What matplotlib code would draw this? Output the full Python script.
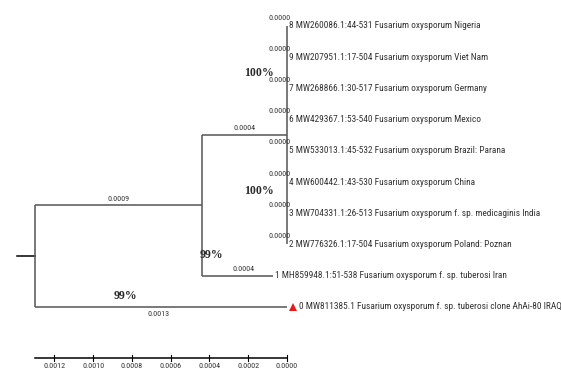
import matplotlib

matplotlib.use("Agg")
import matplotlib.pyplot as plt
from matplotlib import font_manager as fm

# tips, top to bottom
TAXA = [
    "8 MW260086.1:44-531 Fusarium oxysporum Nigeria",
    "9 MW207951.1:17-504 Fusarium oxysporum Viet Nam",
    "7 MW268866.1:30-517 Fusarium oxysporum Germany",
    "6 MW429367.1:53-540 Fusarium oxysporum Mexico",
    "5 MW533013.1:45-532 Fusarium oxysporum Brazil: Parana",
    "4 MW600442.1:43-530 Fusarium oxysporum China",
    "3 MW704331.1:26-513 Fusarium oxysporum f. sp. medicaginis India",
    "2 MW776326.1:17-504 Fusarium oxysporum Poland: Poznan",
    "1 MH859948.1:51-538 Fusarium oxysporum f. sp. tuberosi Iran",
    "0 MW811385.1 Fusarium oxysporum f. sp. tuberosi clone AhAi-80 IRAQ",
]
CLADE_TIPS = 8          # first 8 rows sit on the zero-length polytomy
TIP_LEN = 0.0           # branch length of every polytomy tip

# branch lengths
BL_ROOT_A = 0.00086     # root -> node A
BL_A_CLADE = 0.00044    # node A -> polytomy
BL_A_T1 = 0.00037       # node A -> taxon 1
BL_ROOT_T0 = 0.0013     # root -> taxon 0 (query)

# bootstrap supports: (text, x, row)
BOOT = [("100%", 0.00123, 1.5), ("100%", 0.00123, 5.3),
        ("99%", 0.00097, 7.35), ("99%", 0.00053, 8.65)]

SCALE_TICKS = [0.0012, 0.0010, 0.0008, 0.0006, 0.0004, 0.0002, 0.0000]

LINE = "#555555"
TXT = "#333333"
SERIF = ["Liberation Serif", "DejaVu Serif"]


def narrow_font():
    """pick an installed narrow/condensed sans, else plain Liberation Sans"""
    prefs = ["liberation sans narrow", "arial narrow", "roboto condensed",
             "noto sans condensed", "open sans condensed", "dejavu sans condensed"]
    found = {}
    for f in fm.fontManager.ttflist:
        base = f.fname.lower().replace("-", " ").replace("_", " ")
        key = (f.name + " " + (f.stretch if isinstance(f.stretch, str) else "")).lower()
        if f.style != "normal" or f.weight not in (400, "normal", "regular"):
            continue
        for p in prefs:
            words = p.split()
            if all(w in key or w in base for w in words):
                if "extra" in base or "semi" in base or "ultra" in base:
                    continue
                if "bold" in base or "italic" in base or "light" in base:
                    continue
                found.setdefault(p, f.fname)
    for p in prefs:
        if p in found:
            return fm.FontProperties(fname=found[p])
    return fm.FontProperties(family=["Liberation Sans", "DejaVu Sans"])


fig = plt.figure(figsize=(5.61, 3.69), dpi=100)
ax = fig.add_axes([0, 0, 1, 1])
px = 193846.0  # pixels per unit of distance
ax.set_xlim(-35 / px, (561 - 35) / px)
ax.set_ylim(10.99, -0.833)
ax.axis("off")

NAR = narrow_font()
# size the tip labels so the first one is as wide as in the figure (~190 px)
probe = ax.text(0, 0, TAXA[0], fontproperties=NAR, fontsize=10)
w = probe.get_window_extent(fig.canvas.get_renderer()).width
probe.remove()
TIP_FS = 10 * 190.0 / w
SMALL_FS = TIP_FS * 0.86


def fp(size):
    p = NAR.copy()
    p.set_size(size)
    return p


rows = list(range(len(TAXA)))
x_a = BL_ROOT_A
x_clade = x_a + BL_A_CLADE
x_t1 = x_a + BL_A_T1
y_clade = (rows[0] + rows[CLADE_TIPS - 1]) / 2
y_a = (y_clade + rows[8]) / 2
y_root = (y_a + rows[9]) / 2

kw = dict(color=LINE, lw=1.1, solid_capstyle="butt")
# root stub and root vertical
ax.plot([-18 / px, 0], [y_root, y_root], color="black", lw=1.1)
ax.plot([0, 0], [y_a, rows[9]], **kw)
ax.plot([0, x_a], [y_a, y_a], **kw)
ax.plot([0, BL_ROOT_T0], [rows[9], rows[9]], **kw)
# node A
ax.plot([x_a, x_a], [y_clade, rows[8]], **kw)
ax.plot([x_a, x_clade], [y_clade, y_clade], **kw)
ax.plot([x_a, x_t1], [rows[8], rows[8]], **kw)
# polytomy
ax.plot([x_clade, x_clade], [rows[0], rows[CLADE_TIPS - 1]], **kw)

# branch length labels
lab = dict(fontproperties=fp(SMALL_FS), color=TXT, ha="center")
ax.text(x_a / 2, y_a - 0.12, f"{BL_ROOT_A:.4f}", va="bottom", **lab)
ax.text((x_a + x_clade) / 2, y_clade - 0.12, f"{BL_A_CLADE:.4f}", va="bottom", **lab)
ax.text((x_a + x_t1) / 2 + 0.00003, rows[8] - 0.12, f"{BL_A_T1:.4f}", va="bottom", **lab)
ax.text(BL_ROOT_T0 / 2 - 0.00001, rows[9] + 0.12, f"{BL_ROOT_T0:.4f}", va="top", **lab)

# tips
tip_fp = fp(TIP_FS)
for r, name in zip(rows, TAXA):
    if r < CLADE_TIPS:
        x_tip = x_clade + TIP_LEN
        ax.text(x_tip + 4 / px, r - 0.27, f"{TIP_LEN:.4f}", fontproperties=fp(SMALL_FS),
                color=TXT, ha="right", va="center")
        ax.text(x_tip + 2 / px, r, name, fontproperties=tip_fp, color=TXT,
                va="center", ha="left")
    elif r == 8:
        ax.text(x_t1 + 2 / px, r, name, fontproperties=tip_fp, color=TXT,
                va="center", ha="left")
    else:
        ax.plot([BL_ROOT_T0 + 6 / px], [r], marker="^", color="#e41a1c", ms=6, mew=0)
        ax.text(BL_ROOT_T0 + 12 / px, r, name, fontproperties=tip_fp, color=TXT,
                va="center", ha="left")

for txt, bx, by in BOOT:
    ax.text(bx, by, txt, fontsize=8.5, family=SERIF, weight="bold", color="#2a2a2a",
            ha="right", va="center")

# scale axis (distance counted back from the tips)
y_axis = 10.64
ax.plot([0, BL_ROOT_T0], [y_axis, y_axis], color="black", lw=1.1)
for v in SCALE_TICKS:
    xt = BL_ROOT_T0 - v
    ax.plot([xt, xt], [y_axis - 0.1, y_axis + 0.1], color="black", lw=0.8)
    ax.text(xt, y_axis + 0.17, f"{v:.4f}", fontproperties=fp(SMALL_FS), color=TXT,
            ha="center", va="top")

fig.savefig("out.png", dpi=100)
